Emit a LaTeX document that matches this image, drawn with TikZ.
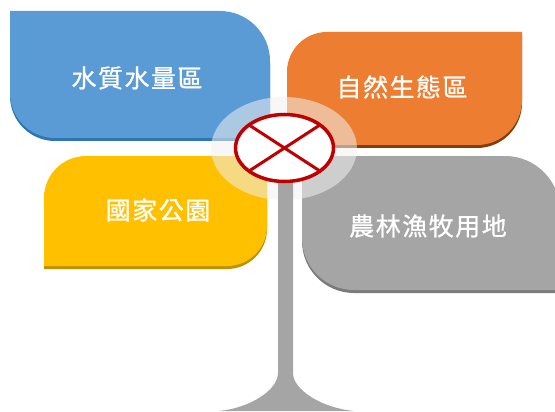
\documentclass[tikz,border=0pt]{standalone}
\usepackage{fontspec}
\newfontfamily\cjk{Noto Sans CJK TC}[LetterSpace=6,FakeBold=0.8]
\usetikzlibrary{shapes.geometric}
\definecolor{cblue}{HTML}{5B9BD5}
\definecolor{cblueS}{HTML}{2E75B6}
\definecolor{corange}{HTML}{ED7D31}
\definecolor{corangeS}{HTML}{843C0C}
\definecolor{cyellow}{HTML}{FFC000}
\definecolor{cyellowS}{HTML}{BF9000}
\definecolor{cgray}{HTML}{A5A5A5}
\definecolor{cgrayS}{HTML}{7B7B7B}
\definecolor{cred}{HTML}{C00000}
\definecolor{chalo}{RGB}{240,240,240}
\tikzset{
  lbl/.style={text=white, font=\cjk\fontsize{25}{28}\selectfont, inner sep=0pt},
  halo/.style={ellipse, fill=chalo, fill opacity=0.55, minimum width=146pt, minimum height=103pt, inner sep=0pt, outer sep=0pt},
  signring/.style={ellipse, draw=cred, line width=3.5pt, fill=white, minimum width=98pt, minimum height=67pt, inner sep=0pt, outer sep=0pt},
  cross/.style={draw=cred, line width=3pt},
}
\begin{document}
\begin{tikzpicture}[x=1pt,y=-1pt]
\useasboundingbox (0,0) rectangle (555,412);
\clip (0,0) rectangle (555,412);
% blue box
\fill[cblueS] (10,14) -- (220,14) arc[start angle=-90,end angle=0,radius=50] -- (270,141) -- (55,141) arc[start angle=90,end angle=180,radius=45] -- cycle;
\fill[cblue] (10,11) -- (220,11) arc[start angle=-90,end angle=0,radius=50] -- (270,138) -- (55,138) arc[start angle=90,end angle=180,radius=45] -- cycle;
% orange box
\fill[corangeS] (287,75) arc[start angle=180,end angle=270,radius=40] -- (522,35) -- (522,103) arc[start angle=0,end angle=90,radius=45] -- (287,148) -- cycle;
\fill[corange] (287,72) arc[start angle=180,end angle=270,radius=40] -- (522,32) -- (522,100) arc[start angle=0,end angle=90,radius=45] -- (287,145) -- cycle;
% yellow box
\fill[cyellowS] (44,201) arc[start angle=180,end angle=270,radius=42] -- (267,159) -- (267,229) arc[start angle=0,end angle=90,radius=40] -- (44,269) -- cycle;
\fill[cyellow] (44,198) arc[start angle=180,end angle=270,radius=42] -- (267,156) -- (267,226) arc[start angle=0,end angle=90,radius=40] -- (44,266) -- cycle;
% gray box
\fill[cgrayS] (302,159) -- (505,159) arc[start angle=-90,end angle=0,radius=55] -- (560,293) -- (354,293) arc[start angle=90,end angle=180,radius=52] -- cycle;
\fill[cgray] (302,156) -- (505,156) arc[start angle=-90,end angle=0,radius=55] -- (560,290) -- (354,290) arc[start angle=90,end angle=180,radius=52] -- cycle;
% labels
\node[lbl] (water) at (137,78) {水質水量區};
\node[lbl] (eco) at (402,87) {自然生態區};
\node[lbl] (park) at (158,210) {國家公園};
\node[lbl] (farm) at (428,226) {農林漁牧用地};
% halo
\node[halo] (halo) at (284,148.5) {};
% stem
\fill[cgray] (278,170) -- (278,373) .. controls (278,390) and (250,408) .. (219,411) -- (354,411) .. controls (322,408) and (293,390) .. (293,373) -- (293,170) -- cycle;
% sign
\node[signring] (sign) at (284.5,148) {};
\draw[cross] (sign.147) -- (sign.-33);
\draw[cross] (sign.33) -- (sign.-147);
\end{tikzpicture}
\end{document}
